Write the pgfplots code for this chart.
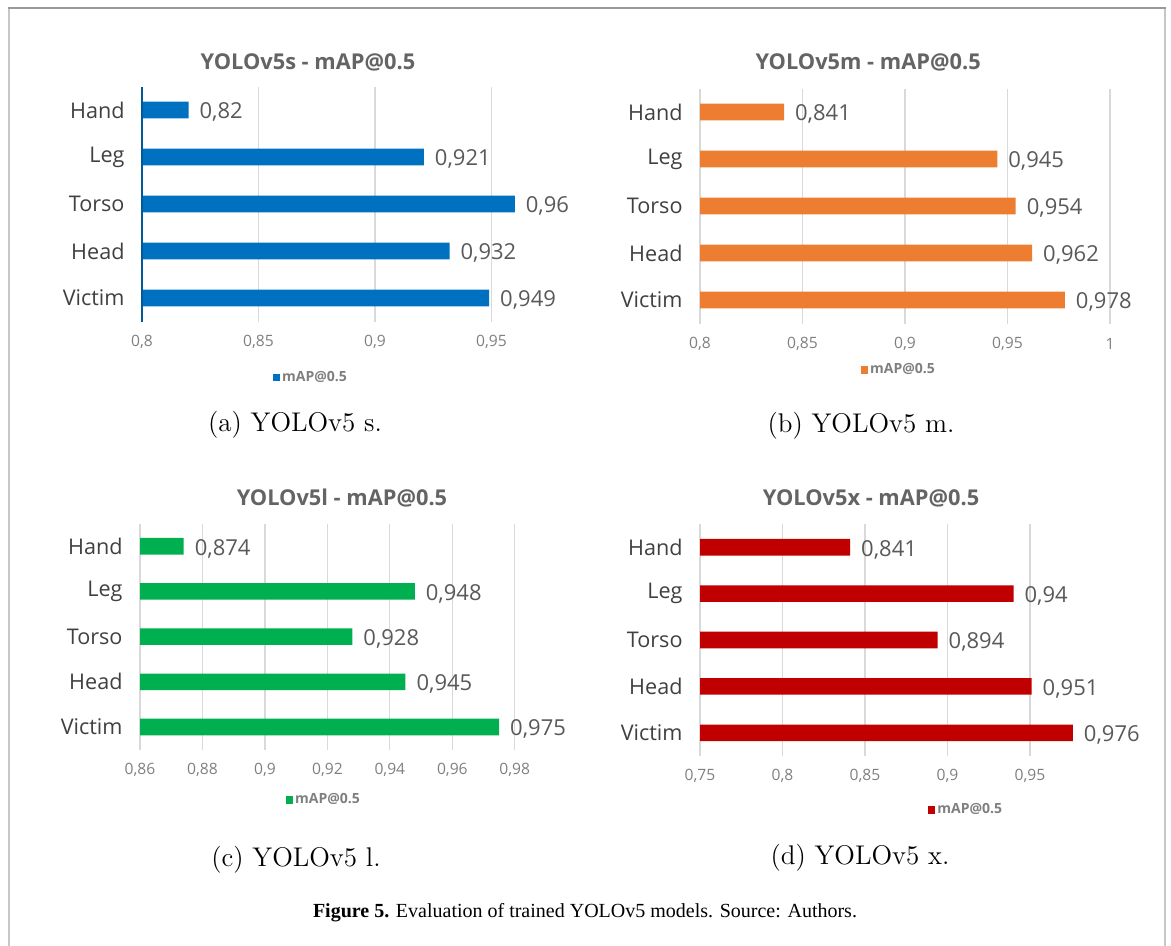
\documentclass[border=0pt]{standalone}
\usepackage{fontspec}
\usepackage{pgfplots}
\pgfplotsset{compat=1.18}

\newfontfamily\chartfont{Open Sans}
\newfontfamily\capfont{Liberation Serif}

\definecolor{cblue}{HTML}{0070C0}
\definecolor{corange}{HTML}{ED7D31}
\definecolor{cgreen}{HTML}{00B050}
\definecolor{cred}{HTML}{C00000}
\definecolor{txtdark}{HTML}{404040}
\definecolor{txtmid}{HTML}{595959}
\definecolor{txttitle}{HTML}{646464}
\definecolor{txtlight}{HTML}{7F7F7F}
\definecolor{gridc}{HTML}{D9D9D9}

\newcommand{\commanum}[1]{\pgfmathprintnumber[use comma,fixed,precision=3,assume math mode=true]{#1}}

\pgfplotsset{
  every axis title shift=0pt,
  panel/.style={
    xbar, scale only axis,
    axis line style={draw=none},
    major tick length=0pt,
    xmajorgrids, grid style={gridc, line width=0.6pt},
    ymin=-0.5, ymax=4.5,
    ytick={0,1,2,3,4},
    yticklabels={Victim,Head,Torso,Leg,Hand},
    yticklabel style={anchor=east, xshift=-5.2pt, text=txtdark,
      font=\chartfont\fontsize{10.8}{12}\selectfont},
    xticklabel={\commanum{\tick}},
    xticklabel style={anchor=center, yshift=-10pt, text=txtlight,
      font=\chartfont\fontsize{7.8}{9}\selectfont},
    bar width=8.3pt,
    nodes near coords={\commanum{\pgfplotspointmeta}},
    nodes near coords style={anchor=west, xshift=2pt, yshift=-1.2pt, text=txtmid,
      font=\chartfont\fontsize{11}{12}\selectfont},
    title style={anchor=center, text=txttitle,
      font=\chartfont\bfseries\fontsize{10.9}{12}\selectfont},
    legend style={anchor=center, draw=none, fill=none, text=txtlight,
      font=\chartfont\bfseries\fontsize{7}{8}\selectfont,
      inner sep=0pt, nodes={inner sep=1pt}},
    clip=false,
  },
  sq/.style={draw=none, fill=#1,
    legend image code/.code={\fill[##1] (0pt,-1.8pt) rectangle (3.6pt,1.8pt);}},
}

\begin{document}
\begin{tikzpicture}

% (a) YOLOv5s
\begin{axis}[panel, at={(71pt,-160.75pt)}, anchor=south west,
  width=215.5pt, height=117.5pt,
  xmin=0.8, xmax=0.985, xtick={0.8,0.85,0.9,0.95},
  title={YOLOv5s - mAP@0.5},
  title style={at={(axis description cs:0.385,1.104)}},
  legend style={at={(axis description cs:0.392,-0.24)}}]
\addplot[sq=cblue] coordinates {(0.949,0) (0.932,1) (0.96,2) (0.921,3) (0.82,4)};
\addlegendentry{mAP@0.5}
\draw[cblue!80!black, line width=0.9pt] (rel axis cs:0,0) -- (rel axis cs:0,1);
\end{axis}

% (b) YOLOv5m
\begin{axis}[panel, at={(350pt,-161.75pt)}, anchor=south west,
  width=205pt, height=117.5pt,
  xmin=0.8, xmax=1.0, xtick={0.8,0.85,0.9,0.95,1},
  title={YOLOv5m - mAP@0.5},
  title style={at={(axis description cs:0.41,1.113)}},
  legend style={at={(axis description cs:0.485,-0.198)}}]
\addplot[sq=corange] coordinates {(0.978,0) (0.962,1) (0.954,2) (0.945,3) (0.841,4)};
\addlegendentry{mAP@0.5}
\end{axis}

% (c) YOLOv5l
\begin{axis}[panel, at={(70pt,-374.8pt)}, anchor=south west,
  width=203pt, height=113pt,
  xmin=0.86, xmax=0.99, xtick={0.86,0.88,0.9,0.92,0.94,0.96,0.98},
  title={YOLOv5l - mAP@0.5},
  title style={at={(axis description cs:0.4975,1.113)}},
  legend style={at={(axis description cs:0.453,-0.223)}}]
\addplot[sq=cgreen] coordinates {(0.975,0) (0.945,1) (0.928,2) (0.948,3) (0.874,4)};
\addlegendentry{mAP@0.5}
\end{axis}

% (d) YOLOv5x
\begin{axis}[panel, at={(350pt,-378pt)}, anchor=south west,
  width=198pt, height=116pt,
  xmin=0.75, xmax=0.99, xtick={0.75,0.8,0.85,0.9,0.95},
  title={YOLOv5x - mAP@0.5},
  title style={at={(axis description cs:0.432,1.112)}},
  legend style={at={(axis description cs:0.672,-0.233)}}]
\addplot[sq=cred] coordinates {(0.976,0) (0.951,1) (0.894,2) (0.94,3) (0.841,4)};
\addlegendentry{mAP@0.5}
\end{axis}

% sub-figure captions
\begin{scope}[every node/.style={font=\fontsize{13.5}{16}\selectfont}]
\node at (147.5pt,-212.5pt) {(a) YOLOv5 s.};
\node at (430.5pt,-213pt) {(b) YOLOv5 m.};
\node at (148pt,-430pt) {(c) YOLOv5 l.};
\node at (430pt,-429pt) {(d) YOLOv5 x.};
\end{scope}

% figure caption
\node[font=\capfont\fontsize{10}{12}\selectfont] at (292.5pt,-456.5pt)
  {\textbf{Figure 5.} Evaluation of trained YOLOv5 models. Source: Authors.};

% frame
\draw[color=black!22, line width=1.1pt] (4.3pt,-473pt) -- (4.3pt,-4pt);
\draw[color=black!22, line width=1.1pt] (582.3pt,-4pt) -- (582.3pt,-473pt);
\draw[color=black!40, line width=1.1pt] (3.75pt,-4pt) -- (582.85pt,-4pt);

\pgfresetboundingbox
\path[use as bounding box] (0pt,0pt) rectangle (585.5pt,-473pt);
\end{tikzpicture}
\end{document}
